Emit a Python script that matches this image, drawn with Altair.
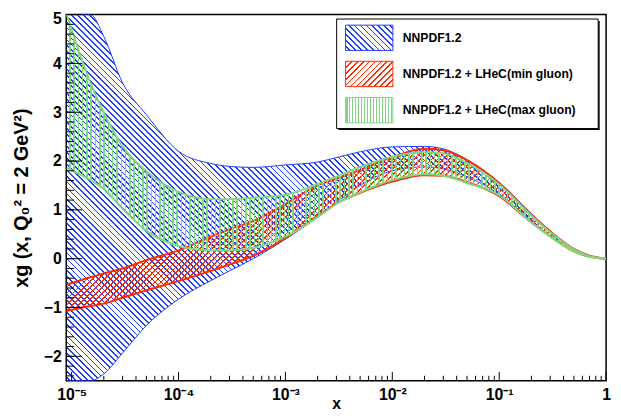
import math
import altair as alt
import pandas as pd

# ---------------- data ----------------
x_vals = [9e-6, 1.5e-5, 2e-5, 3e-5, 5e-5, 1e-4, 2e-4, 3e-4, 5e-4, 1e-3, 2e-3, 3e-3,
          5e-3, 1e-2, 2e-2, 3e-2, 5e-2, 0.1, 0.2, 0.3, 0.5, 0.7, 1.0]
blue_hi = [7.0, 5.35, 4.55, 3.6, 2.95, 2.2, 1.95, 1.89, 1.87, 1.92, 1.98, 2.07,
           2.19, 2.29, 2.30, 2.25, 2.03, 1.56, 0.92, 0.57, 0.20, 0.06, 0.0]
blue_lo = [-3.4, -2.75, -2.36, -1.93, -1.37, -0.83, -0.45, -0.25, 0.0, 0.40, 0.85, 1.15,
           1.50, 1.80, 1.88, 1.84, 1.68, 1.32, 0.78, 0.46, 0.15, 0.04, 0.0]
red_hi = [-0.53, -0.38, -0.30, -0.20, -0.03, 0.17, 0.45, 0.60, 0.77, 1.12, 1.50, 1.64,
          1.82, 2.08, 2.25, 2.22, 2.02, 1.55, 0.90, 0.56, 0.20, 0.06, 0.0]
red_lo = [-1.07, -0.97, -0.92, -0.80, -0.65, -0.46, -0.25, -0.12, 0.06, 0.42, 0.88, 1.13,
          1.35, 1.58, 1.71, 1.70, 1.57, 1.28, 0.74, 0.46, 0.15, 0.04, 0.0]
green_hi = [5.1, 3.6, 2.99, 2.30, 1.79, 1.37, 1.22, 1.22, 1.25, 1.31, 1.53, 1.68,
            1.88, 2.09, 2.18, 2.16, 1.96, 1.52, 0.88, 0.54, 0.19, 0.05, 0.0]
green_lo = [1.86, 1.61, 1.43, 1.02, 0.57, 0.26, 0.17, 0.17, 0.22, 0.45, 0.85, 1.12,
            1.36, 1.61, 1.73, 1.70, 1.55, 1.30, 0.74, 0.45, 0.15, 0.04, 0.0]

series_names = ["NNPDF1.2", "NNPDF1.2 + LHeC(min gluon)", "NNPDF1.2 + LHeC(max gluon)"]

x_major = [1e-5, 1e-4, 1e-3, 1e-2, 1e-1, 1.0]
x_minor = [k * 10.0 ** e for e in range(-5, 0) for k in range(2, 10)]
y_major = [-2, -1, 0, 1, 2, 3, 4, 5]
y_minor = [round(-2.4 + 0.2 * i, 2) for i in range(37)]

# ---------------- layout / style ----------------
W_PLOT, H_PLOT = 547, 371
X_MIN, X_MAX = 8.9e-6, 1.0
Y_MIN, Y_MAX = -2.5, 5.0
FONT = "Liberation Sans"

BLUE = "#1f3dff"
RED = "#ff2a00"
GREEN = "#7fd87f"

xscale = alt.Scale(type="log", domain=[X_MIN, X_MAX])
yscale = alt.Scale(domain=[Y_MIN, Y_MAX], clamp=True)

label_expr = ("datum.value >= 1 ? '1' : '10\u207b' + substring('\u2070\u00b9\u00b2\u00b3\u2074\u2075', "
              "round(-log(datum.value)/LN10), round(-log(datum.value)/LN10) + 1)")
x_axis = alt.Axis(values=x_major, labelExpr=label_expr, ticks=False, domain=False, grid=False,
                  labelFont=FONT, labelFontWeight="bold", labelFontSize=16, labelColor="black",
                  labelPadding=6, labelFlush=False, labelOverlap=False, labelBound=False,
                  title="x", titleFont=FONT, titleFontWeight="bold", titleFontSize=16,
                  titleColor="black", titlePadding=-7)
y_axis = alt.Axis(values=y_major, ticks=False, domain=False, grid=False,
                  labelFont=FONT, labelFontWeight="bold", labelFontSize=16, labelColor="black",
                  labelPadding=5, labelFlush=True, labelFlushOffset=4, labelOverlap=False,
                  title="xg (x, Q\u2080\u00b2 = 2 GeV\u00b2)", titleFont=FONT,
                  titleFontWeight="bold", titleFontSize=20, titleColor="black", titlePadding=12)

N_STRIPES = 128
CLEAR = "rgba(255,255,255,0)"


def clampv(v):
    return max(min(v, Y_MAX), Y_MIN)


def ypx(v):
    return (Y_MAX - clampv(v)) / (Y_MAX - Y_MIN) * H_PLOT


def xpx(x):
    return (math.log10(x) - math.log10(X_MIN)) / (math.log10(X_MAX) - math.log10(X_MIN)) * W_PLOT


def hatch_geom(theta_deg, s, X0, X1, Y0, Y1, nstripes=N_STRIPES):
    """Gradient end points (bbox units) for globally phase-aligned stripes."""
    th = math.radians(theta_deg)
    sn, cs = math.sin(th), math.cos(th)
    W, H = X1 - X0, Y1 - Y0
    a, b = -sn * W, cs * H
    p00 = -sn * X0 + cs * Y0
    corners = [(0, 0), (1, 0), (0, 1), (1, 1)]
    vals = [p00 + a * u + b * v for u, v in corners]
    m0, m1 = min(vals), max(vals)
    u0, v0 = corners[vals.index(m0)]
    D = a * a + b * b
    if D < 1e-9:
        return None, 0
    pa = math.floor(m0 / s) * s
    L = nstripes * s
    x1 = u0 - (m0 - pa) * a / D
    y1 = v0 - (m0 - pa) * b / D
    return (x1, y1, x1 + L * a / D, y1 + L * b / D), m1 - pa


def stripe_fill(color, geom, duty, nstripes=N_STRIPES):
    stops = []
    for i in range(nstripes):
        o0, o1, o2 = i / nstripes, (i + duty) / nstripes, (i + 1) / nstripes
        stops += [{"color": color, "offset": o0}, {"color": color, "offset": o1},
                  {"color": CLEAR, "offset": o1}, {"color": CLEAR, "offset": o2}]
    x1, y1, x2, y2 = geom
    return {"gradient": "linear", "stops": stops, "x1": x1, "y1": y1, "x2": x2, "y2": y2}


def plan_segment(hi, lo, a, b, theta, s, kmax):
    n = len(x_vals)
    ia, ib = max(a - 1, 0), min(b + 1, n - 1)
    xs = x_vals[ia:ib + 1]
    hs = hi[ia:ib + 1]
    ls = lo[ia:ib + 1]
    X0, X1 = xpx(xs[0]), xpx(xs[-1])
    for K in range(1, kmax + 1):
        pieces = []
        ok = True
        for j in range(K):
            bot = [l + (h - l) * j / K for h, l in zip(hs, ls)]
            top = [l + (h - l) * (j + 1) / K for h, l in zip(hs, ls)]
            ys = [ypx(v) for v in bot + top]
            Y0, Y1 = min(ys), max(ys)
            if Y1 - Y0 < 0.01:
                continue
            geom, span = hatch_geom(theta, s, X0, X1, Y0, Y1)
            if span > N_STRIPES * s:
                ok = False
                break
            pieces.append((geom, xs, top, bot))
        if ok:
            return pieces
    return None


def band(hi, lo, color, theta, s, duty, line_w):
    out = []
    n = len(x_vals)
    a = 0
    all_pieces = []
    while a < n - 1:
        best_b, best = None, None
        for b in range(a + 1, n):
            res = plan_segment(hi, lo, a, b, theta, s, 2)
            if res is None:
                break
            best_b, best = b, res
        if best is None:
            best_b = a + 1
            best = plan_segment(hi, lo, a, a + 1, theta, s, 10) or []
        all_pieces += best
        a = best_b
    for geom, xs, top, bot in all_pieces:
        df = pd.DataFrame({"x": xs, "top": top, "bot": bot})
        out.append(alt.Chart(df).mark_area(
            clip=True, interpolate="monotone", color=stripe_fill(color, geom, duty)
        ).encode(
            x=alt.X("x:Q", scale=xscale, axis=x_axis),
            y=alt.Y("top:Q", scale=yscale, axis=y_axis),
            y2="bot:Q",
        ))
    full = pd.DataFrame({"x": x_vals, "hi": hi, "lo": lo})
    for col in ["hi", "lo"]:
        out.append(alt.Chart(full).mark_line(
            clip=True, interpolate="monotone", color=color, strokeWidth=line_w
        ).encode(
            x=alt.X("x:Q", scale=xscale, axis=x_axis),
            y=alt.Y(f"{col}:Q", scale=yscale, axis=y_axis),
        ))
    return out


S_DIAG = 6 / math.sqrt(2)
layers = []
layers += band(blue_hi, blue_lo, BLUE, 45, S_DIAG, 0.3, 1)
layers += band(red_hi, red_lo, RED, -45, S_DIAG, 0.3, 2)
layers += band(green_hi, green_lo, GREEN, 90, 4.35, 0.35, 2)

# ---------------- inward ticks as rules ----------------
layers.append(alt.Chart(pd.DataFrame({"x": x_major})).mark_rule(color="black").encode(
    x=alt.X("x:Q", scale=xscale, axis=x_axis),
    y=alt.value(H_PLOT), y2=alt.value(H_PLOT - 9)))
layers.append(alt.Chart(pd.DataFrame({"x": x_minor})).mark_rule(color="black").encode(
    x=alt.X("x:Q", scale=xscale, axis=x_axis),
    y=alt.value(H_PLOT), y2=alt.value(H_PLOT - 5)))
layers.append(alt.Chart(pd.DataFrame({"top": y_major})).mark_rule(color="black").encode(
    y=alt.Y("top:Q", scale=yscale, axis=y_axis),
    x=alt.value(0), x2=alt.value(16)))
layers.append(alt.Chart(pd.DataFrame({"top": y_minor})).mark_rule(color="black").encode(
    y=alt.Y("top:Q", scale=yscale, axis=y_axis),
    x=alt.value(0), x2=alt.value(8)))

# ---------------- legend box ----------------
one = pd.DataFrame({"k": [0]})
LX0, LX1, LY0, LY1 = 274, 539, 4.5, 115.5
layers.append(alt.Chart(one).mark_rect(color="black").encode(
    x=alt.value(LX0 + 2), x2=alt.value(LX1 + 1.5), y=alt.value(LY0 + 2), y2=alt.value(LY1 + 1.5)))
layers.append(alt.Chart(one).mark_rect(fill="white", stroke="black", strokeWidth=1).encode(
    x=alt.value(LX0), x2=alt.value(LX1), y=alt.value(LY0), y2=alt.value(LY1)))

sym_rows = [(10.7, 36.3), (47.3, 73.0), (84.0, 109.7)]
sym_style = [(BLUE, 45, S_DIAG, 0.3), (RED, -45, S_DIAG, 0.3), (GREEN, 90, 3, 0.35)]
for name, (y0, y1), (col, th, sp, du) in zip(series_names, sym_rows, sym_style):
    th_r = math.radians(th)
    span_est = abs(math.sin(th_r)) * 48 + abs(math.cos(th_r)) * (y1 - y0)
    n_leg = int(math.ceil(span_est / sp)) + 2
    geom, _ = hatch_geom(th, sp, 283, 331, y0, y1, n_leg)
    layers.append(alt.Chart(one).mark_rect(fill=stripe_fill(col, geom, du, n_leg), stroke=col,
                                           strokeWidth=1).encode(
        x=alt.value(283), x2=alt.value(331), y=alt.value(y0), y2=alt.value(y1)))
    layers.append(alt.Chart(pd.DataFrame({"name": [name]})).mark_text(
        align="left", baseline="middle", font=FONT, fontWeight="bold", fontSize=12.3, color="black"
    ).encode(text="name:N", x=alt.value(341), y=alt.value((y0 + y1) / 2)))

chart = alt.layer(*layers).properties(
    width=W_PLOT, height=H_PLOT,
    padding={"left": 59, "top": 4, "right": 7, "bottom": 29},
    autosize=alt.AutoSizeParams(type="none"),
).configure_view(stroke="black", strokeWidth=1.5)

chart.save("out.html", embed_options={"renderer": "svg", "actions": False})
